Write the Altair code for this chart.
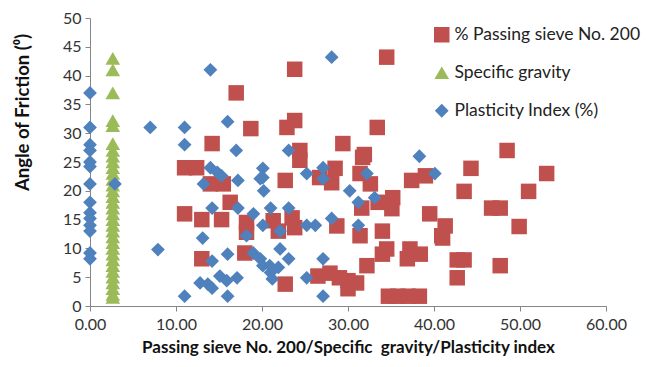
import altair as alt
import pandas as pd

# % Passing sieve No. 200
pass_x = [23.8, 34.5, 17.0, 23.8, 22.9, 33.4, 18.7, 14.2, 29.4, 31.9, 24.4, 24.4, 11.0, 12.4,
          14.0, 15.5, 16.3, 11.0, 13.0, 15.3, 18.2, 18.2, 13.0, 18.0, 21.3, 22.7, 28.5, 28.1,
          26.7, 31.7, 31.4, 32.6, 31.6, 33.5, 35.2, 35.1, 37.4, 39.0, 39.5, 41.3, 40.9, 28.7,
          31.4, 34.0, 34.5, 34.0, 37.2, 38.4, 36.9, 32.2, 22.7, 23.5, 23.8, 21.9, 26.5, 27.9,
          29.0, 30.0, 30.0, 31.0, 34.7, 35.8, 37.0, 38.3, 48.5, 44.3, 53.1, 43.5, 51.0, 46.7,
          47.7, 49.9, 41.0, 42.7, 43.5, 47.7, 42.7]
pass_y = [41.1, 43.2, 37.0, 32.2, 31.0, 31.0, 30.8, 28.2, 28.2, 26.3, 27.0, 25.3, 24.0, 24.0,
          21.2, 21.2, 18.0, 16.0, 15.0, 15.0, 14.5, 12.8, 8.2, 9.2, 14.8, 21.8, 23.9, 21.4,
          22.3, 25.8, 23.0, 21.2, 17.0, 18.0, 18.8, 16.9, 21.8, 22.6, 16.0, 13.9, 12.2, 13.9,
          12.2, 13.0, 9.9, 9.0, 9.9, 9.0, 8.2, 7.0, 3.8, 15.3, 13.6, 13.0, 5.2, 5.7,
          4.9, 4.4, 3.0, 4.0, 1.7, 1.7, 1.7, 1.7, 27.0, 23.9, 23.0, 19.9, 19.9, 17.0,
          17.0, 13.8, 11.8, 8.0, 8.0, 7.0, 4.9]

# Specific gravity
sg_y = [43, 41, 37, 32.2, 31.3, 28.2, 27, 26, 25, 24, 23, 22, 21, 20, 19, 18, 17, 16, 15, 14,
        13, 12, 11, 10, 9, 8, 7, 6, 5, 4, 3, 2, 1.5]
sg_x = [2.65] * len(sg_y)

# Plasticity Index (%)
pi_x = [0, 0, 0, 0, 0, 0, 0, 0, 0, 0, 0, 0, 0, 0,
        7.0, 11.0, 11.0, 14.0, 16.0, 17.0, 28.1, 23.1, 38.3, 2.9, 7.9, 14.0, 14.8, 15.3,
        13.2, 17.2, 14.2, 17.2, 13.1, 16.0, 18.2, 19.0, 20.1, 19.8, 20.1, 20.2, 21.0, 19.0,
        19.8, 20.1, 21.0, 21.2, 14.2, 12.8, 13.7, 14.2, 15.1, 15.9, 17.1, 11.0, 16.0, 20.1,
        23.1, 22.1, 25.2, 26.2, 25.2, 27.1, 27.1, 30.2, 31.2, 32.2, 33.1, 28.1, 31.2, 40.1,
        22.1, 23.1, 20.9, 21.9, 27.1, 25.2, 27.1]
pi_y = [37, 31, 28, 27, 25, 24.2, 21.2, 18, 16.2, 15.2, 14, 13, 9.2, 8.2,
        31, 31, 28, 41, 32, 27, 43.2, 27, 26, 21.2, 9.8, 24, 23.2, 22.6,
        21.2, 21.8, 17, 17, 11.8, 9, 12.2, 16, 14, 22.1, 23.9, 20, 17, 9.2,
        8.2, 7, 5.8, 4.7, 7.8, 4, 3.8, 3.1, 5.2, 4.4, 4.9, 1.7, 1.7, 22.3,
        17, 13, 14, 14, 23, 24, 22.1, 20, 18, 23, 18.8, 15.2, 14, 23,
        9.9, 8.2, 7.0, 6.7, 8.2, 4.9, 1.7]

series = ["% Passing sieve No. 200", "Specific gravity", "Plasticity Index (%)"]

rows = []
for x, y in zip(pass_x, pass_y):
    rows.append({"x": x, "y": y, "s": series[0], "o": 0})
for x, y in zip(sg_x, sg_y):
    rows.append({"x": x, "y": y, "s": series[1], "o": 1})
for x, y in zip(pi_x, pi_y):
    rows.append({"x": x, "y": y, "s": series[2], "o": 2})
df = pd.DataFrame(rows)

FONT = "Lato"

chart = alt.Chart(df).mark_point(filled=True, opacity=1, size=230).encode(
    x=alt.X("x:Q", scale=alt.Scale(domain=[0, 60], nice=False),
            axis=alt.Axis(values=[0, 10, 20, 30, 40, 50, 60], format=".2f",
                          title="Passing sieve No. 200/Specific\u00a0 gravity/Plasticity index",
                          labelPadding=5, titlePadding=7, labelFlush=False, titleFontSize=17)),
    y=alt.Y("y:Q", scale=alt.Scale(domain=[0, 50], nice=False),
            axis=alt.Axis(values=list(range(0, 55, 5)), title="Angle of Friction (⁰)",
                          labelPadding=4, titleX=-68, titleY=94, titleAlign="center",
                          titleBaseline="middle", titleAngle=-90, titleFontSize=18.5)),
    color=alt.Color("s:N", scale=alt.Scale(domain=series, range=["#C0504D", "#9BBB59", "#4F81BD"]),
                    legend=alt.Legend(title=None, orient="none", legendX=343, legendY=8,
                                      symbolSize=110, labelFontSize=17.5, labelFont=FONT,
                                      labelColor="#222222", rowPadding=17, labelOffset=4,
                                      labelLimit=400, symbolOpacity=1)),
    shape=alt.Shape("s:N", scale=alt.Scale(domain=series, range=["square", "triangle-up", "diamond"])),
    size=alt.Size("s:N", scale=alt.Scale(domain=series, range=[240, 190, 220]), legend=None),
    order=alt.Order("o:Q"),
).properties(
    width=516, height=288,
    autosize=alt.AutoSizeParams(type="none"),
    padding={"left": 82, "top": 10, "right": 40, "bottom": 50},
).configure_view(stroke=None).configure_axis(
    grid=False, domainColor="#868686", tickColor="#868686", tickSize=5,
    labelFont=FONT, labelFontSize=16, labelColor="#333333",
    titleFont=FONT, titleFontSize=16, titleFontWeight="bold", titleColor="#111111",
)

chart.save("out.html", embed_options={"renderer": "svg", "actions": False})
